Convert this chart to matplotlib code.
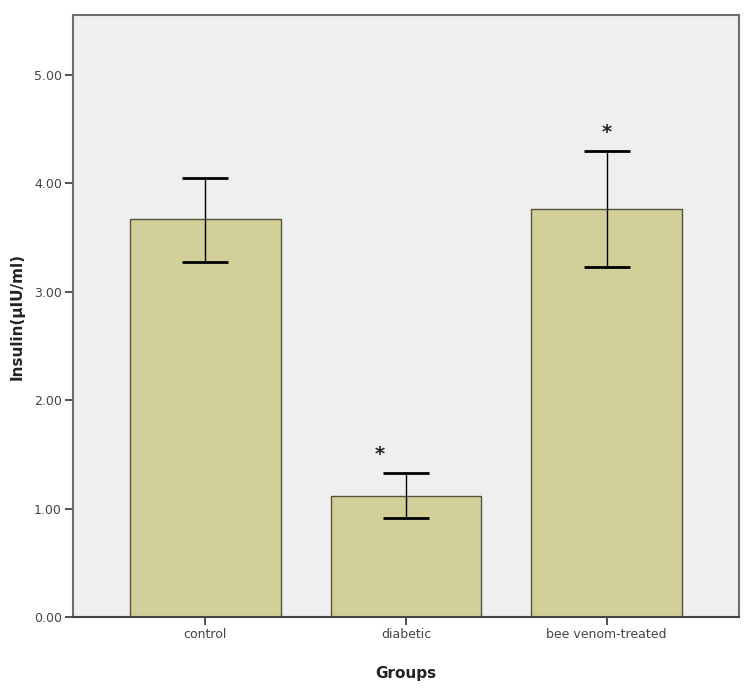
import numpy as np
import matplotlib
matplotlib.use('Agg')
import matplotlib.pyplot as plt

groups = ['control', 'diabetic', 'bee venom-treated']
means = [3.67, 1.12, 3.76]
err_low = [3.27, 0.91, 3.23]
err_high = [4.05, 1.33, 4.30]
stars = ['', '*', '*']
yticks = [0.0, 1.0, 2.0, 3.0, 4.0, 5.0]

fig = plt.figure(figsize=(7.47, 6.95), dpi=100)
ax = fig.add_axes([73 / 747, 1 - 617 / 695, 666 / 747, 602 / 695])
ax.set_facecolor('#efeff0')

x = np.arange(len(groups))
means = np.array(means)
yerr = [means - np.array(err_low), np.array(err_high) - means]
ax.bar(x, means, width=0.75, color='#d3cf98', edgecolor='#55523a', linewidth=1.0, zorder=2)
ax.errorbar(x, means, yerr=yerr, fmt='none', ecolor='black', elinewidth=1.0,
            capsize=16.5, capthick=2.0, zorder=3)

# significance marks
for i, s in enumerate(stars):
    if s:
        dx = -0.13 if i == 1 else 0.0
        ax.text(x[i] + dx, err_high[i] + 0.08, s, ha='center', va='bottom',
                fontsize=14, fontweight='bold', color='#222222')

ax.set_xlim(-0.66, 2.66)
ax.set_ylim(0, 5.55)
ax.set_xticks(x)
ax.set_xticklabels(groups, fontsize=9, color='#444444')
ax.set_yticks(yticks)
ax.set_yticklabels(['%.2f' % v for v in yticks], fontsize=9, color='#444444')
ax.tick_params(axis='both', direction='out', length=6, width=1.2, color='#333333', pad=2)
for sp in ax.spines.values():
    sp.set_color('#6e6e6e')
    sp.set_linewidth(1.5)
ax.spines['bottom'].set_color('#444444')

ax.set_ylabel('Insulin(µIU/ml)', fontsize=11, fontweight='bold', color='#222222')
ax.yaxis.set_label_coords(-0.072, 0.5)
ax.set_xlabel('Groups', fontsize=11, fontweight='bold', color='#222222', labelpad=18)

fig.savefig('out.png', dpi=100)
